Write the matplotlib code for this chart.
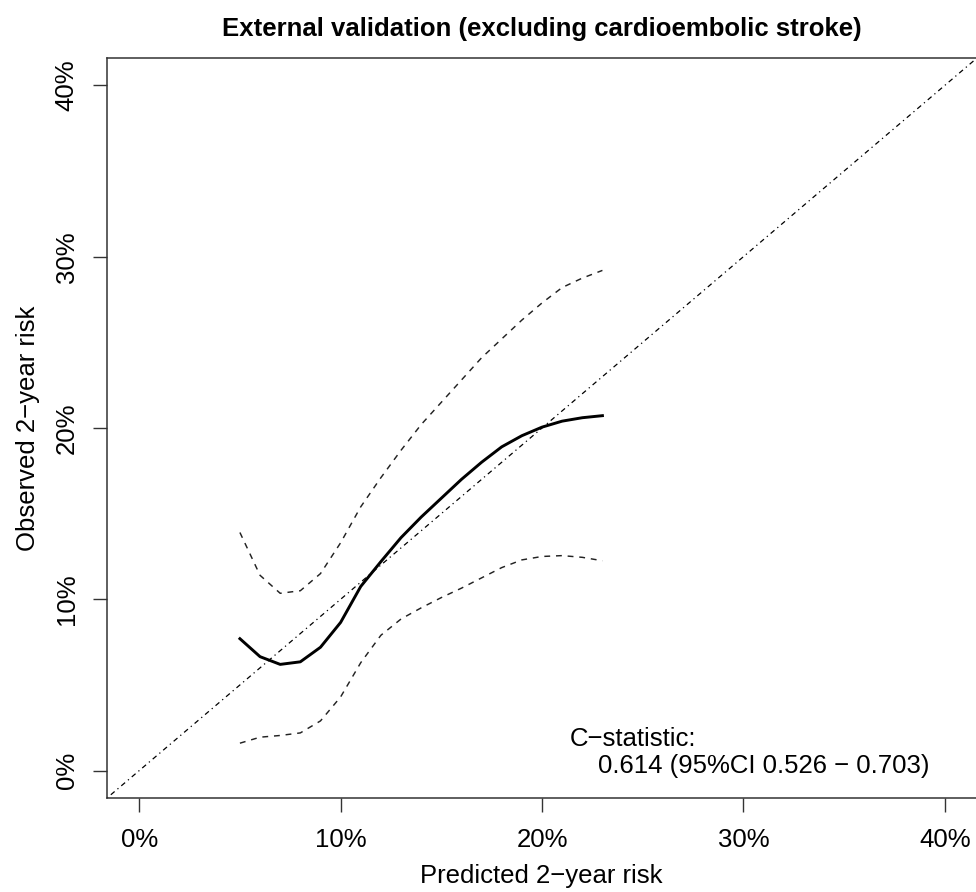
import matplotlib
matplotlib.use("Agg")
import matplotlib.pyplot as plt

# predicted risk grid (%) and the smoothed calibration curve with its 95% CI
predicted = [5, 6, 7, 8, 9, 10, 11, 12, 13, 14, 15, 16, 17, 18, 19, 20, 21, 22, 23]
observed = [7.7, 6.65, 6.2, 6.35, 7.2, 8.65, 10.75, 12.2, 13.6, 14.8, 15.9, 17.0,
            18.0, 18.9, 19.55, 20.05, 20.4, 20.6, 20.72]
upper_ci = [13.9, 11.4, 10.35, 10.5, 11.5, 13.3, 15.4, 17.1, 18.7, 20.2, 21.5, 22.8,
            24.1, 25.2, 26.3, 27.3, 28.2, 28.75, 29.2]
lower_ci = [1.6, 1.95, 2.05, 2.2, 2.9, 4.3, 6.3, 7.9, 8.85, 9.5, 10.1, 10.65,
            11.25, 11.85, 12.3, 12.5, 12.55, 12.45, 12.25]

ticks = [0, 10, 20, 30, 40]
tick_labels = ["0%", "10%", "20%", "30%", "40%"]

title = "External validation (excluding cardioembolic stroke)"
xlabel = "Predicted 2\u2212year risk"
ylabel = "Observed 2\u2212year risk"
cstat_head = "C\u2212statistic:"
cstat_value = "0.614 (95%CI 0.526 \u2212 0.703)"

plt.rcParams["font.family"] = ["Liberation Sans", "DejaVu Sans"]
FS = 18.5
W, H = 976, 892


def fig_xy(x, y):
    # pixel position -> figure fraction
    return x / W, 1 - y / H


fig = plt.figure(figsize=(W / 100, H / 100), dpi=100)
ax = fig.add_axes([107 / W, 1 - 798 / H, 870 / W, 740 / H])

# reference diagonal (dot-dash)
ax.axline((0, 0), slope=1, color="black", lw=0.9, linestyle=(0, (1, 3, 4, 3)))
ax.plot(predicted, upper_ci, color="#222222", lw=1.05, linestyle=(0, (4, 4)))
ax.plot(predicted, lower_ci, color="#222222", lw=1.05, linestyle=(0, (4, 4)))
ax.plot(predicted, observed, color="black", lw=2.1)

ax.set_xlim(-1.6, 41.6)
ax.set_ylim(-1.6, 41.6)
ax.set_xticks(ticks)
ax.set_xticklabels(tick_labels)
ax.set_yticks(ticks)
ax.set_yticklabels(tick_labels)
ax.tick_params(axis="both", direction="out", length=10, width=1.0, color="#333333",
               labelsize=FS)
ax.tick_params(axis="x", pad=11.5)
ax.tick_params(axis="y", pad=10.5, labelrotation=90)
plt.setp(ax.get_yticklabels(), va="center")
for side in ["left", "bottom", "top", "right"]:
    ax.spines[side].set_linewidth(1.1)
    ax.spines[side].set_color("#333333")

ax.text(21.39, 1.46, cstat_head, fontsize=FS, ha="left", va="baseline")
ax.text(22.79, -0.12, cstat_value, fontsize=FS, ha="left", va="baseline")

fig.text(*fig_xy(541.5, 36), title, fontsize=FS, fontweight="bold",
         ha="center", va="baseline")
fig.text(*fig_xy(541.5, 883), xlabel, fontsize=FS, ha="center", va="baseline")
fig.text(*fig_xy(35.5, 428), ylabel, fontsize=FS, ha="center", va="baseline",
         rotation=90, rotation_mode="anchor")

fig.savefig("out.png", dpi=100)
